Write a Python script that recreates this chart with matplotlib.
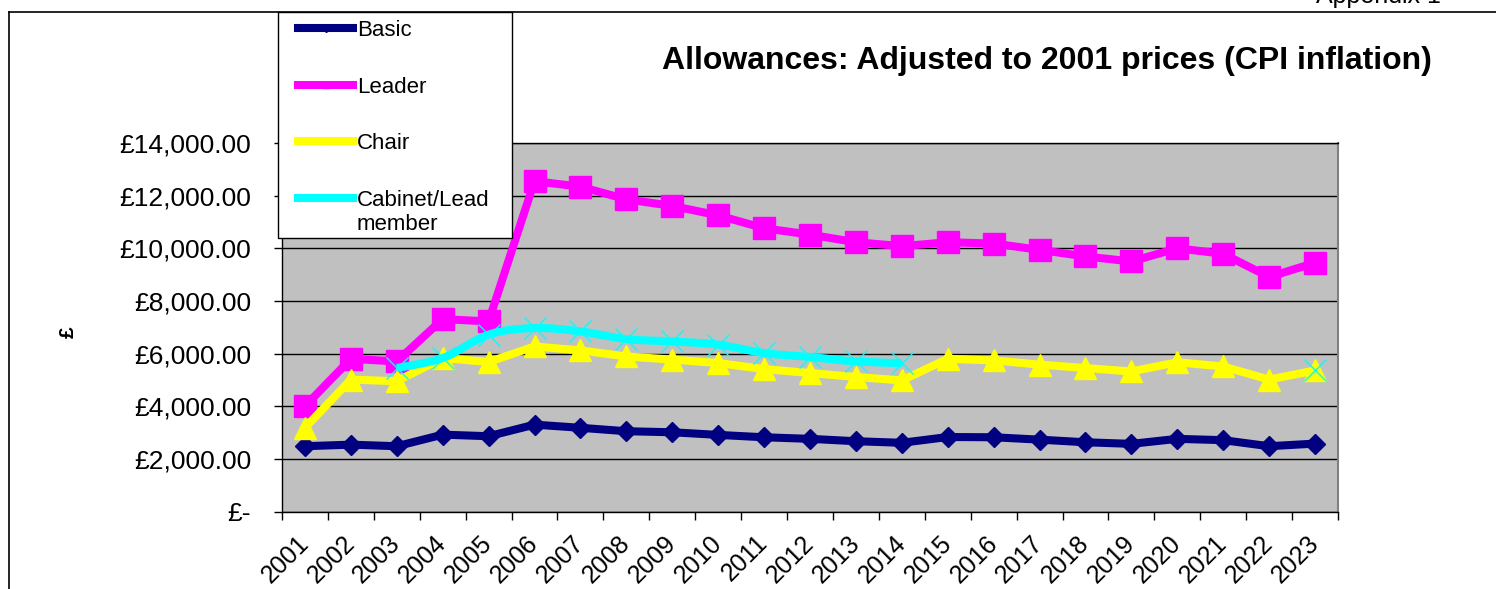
import numpy as np
import matplotlib
matplotlib.use("Agg")
import matplotlib.pyplot as plt
from matplotlib.lines import Line2D
from matplotlib.patches import Rectangle, PathPatch
from matplotlib.path import Path
from matplotlib.ticker import FuncFormatter

plt.rcParams['font.family'] = ['Liberation Sans', 'DejaVu Sans']

# values (GBP, 2001 prices)
years = [str(y) for y in range(2001, 2024)]
basic = [2480, 2540, 2480, 2920, 2860, 3300, 3180, 3050, 3010, 2910, 2820, 2760,
         2670, 2610, 2830, 2820, 2730, 2630, 2570, 2760, 2710, 2480, 2580]
leader = [4000, 5800, 5700, 7310, 7220, 12550, 12340, 11860, 11610, 11250, 10760, 10520,
          10230, 10080, 10230, 10180, 9940, 9690, 9500, 10000, 9790, 8910, 9450]
chair = [3180, 5010, 4950, 5830, 5680, 6270, 6120, 5890, 5770, 5640, 5410, 5260,
         5110, 4980, 5800, 5740, 5580, 5450, 5320, 5670, 5510, 5010, 5360]
cabinet = [np.nan, np.nan, 5450, 5830, 6720, 6970, 6840, 6550, 6460, 6340, 6020, 5870,
           5700, 5640, np.nan, np.nan, np.nan, np.nan, np.nan, np.nan, np.nan, np.nan, 5360]

series_names = ['Basic', 'Leader', 'Chair', 'Cabinet/Lead']
colors = ['#000080', '#FF00FF', '#FFFF00', '#00FFFF']
title = 'Allowances: Adjusted to 2001 prices (CPI inflation)'

W, H = 1496, 589


def smooth_path(xs, ys):
    # Excel-style smoothed line: cubic bezier through the points
    pts = np.column_stack([xs, ys]).astype(float)
    n = len(pts)
    verts = [tuple(pts[0])]
    codes = [Path.MOVETO]
    for i in range(n - 1):
        p0 = pts[max(i - 1, 0)]
        p1 = pts[i]
        p2 = pts[i + 1]
        p3 = pts[min(i + 2, n - 1)]
        c1 = p1 + (p2 - p0) / 6.0
        c2 = p2 - (p3 - p1) / 6.0
        verts += [tuple(c1), tuple(c2), tuple(p2)]
        codes += [Path.CURVE4] * 3
    return Path(verts, codes)


fig = plt.figure(figsize=(W / 100, H / 100), dpi=100)
ax = fig.add_axes([282 / W, 1 - 511.5 / H, (1338 - 282) / W, (511.5 - 143) / H])

x = np.arange(len(years))
lw = 5.8

ax.plot(x, basic, color=colors[0], lw=lw, marker='D', ms=10.5, zorder=3)
ax.plot(x, leader, color=colors[1], lw=lw, marker='s', ms=16.5, zorder=3)
ax.plot(x, chair, color=colors[2], lw=lw, marker='^', ms=16.5, zorder=3)

cab = np.array(cabinet, dtype=float)
ok = ~np.isnan(cab)
idx = x[ok]
# contiguous run for the smoothed line
run = idx[idx <= 13]
ax.add_patch(PathPatch(smooth_path(run, cab[run]), fill=False, edgecolor=colors[3],
                       lw=lw, capstyle='butt', joinstyle='round', zorder=4))
ax.plot(idx, cab[ok], linestyle='none', marker='x', ms=16.5, mew=1,
        color=colors[3], zorder=4)

ax.set_xlim(-0.5, len(years) - 0.5)
ax.set_ylim(0, 14000)
ax.set_facecolor('#C0C0C0')
ax.set_yticks(range(0, 14001, 2000))
ax.yaxis.set_major_formatter(FuncFormatter(lambda v, p: '£-' if v == 0 else f'£{v:,.2f}'))
ax.yaxis.grid(True, color='black', lw=1)
ax.set_axisbelow(True)
ax.tick_params(axis='y', length=5.8, width=1, pad=16.5, labelsize=19)

ax.set_xticks(x)
ax.set_xticklabels(years, rotation=45, ha='right', va='center',
                   rotation_mode='anchor', fontsize=18)
ax.set_xticks(np.arange(-0.5, len(years), 1), minor=True)
ax.tick_params(axis='x', which='major', length=0, pad=20)
ax.tick_params(axis='x', which='minor', length=5.8, width=1)

for s in ['left', 'bottom', 'top']:
    ax.spines[s].set_color('black')
    ax.spines[s].set_linewidth(1)
ax.spines['right'].set_color('#808080')
ax.spines['right'].set_linewidth(1.5)

# legend
handles = [
    Line2D([], [], color=colors[0], lw=lw, marker='D', ms=4),
    Line2D([], [], color=colors[1], lw=lw, marker='s', ms=5),
    Line2D([], [], color=colors[2], lw=lw, marker='^', ms=5),
    Line2D([], [], color=colors[3], lw=lw, marker='x', ms=5, mew=1),
]
fig.add_artist(Rectangle((278 / W, 1 - 238 / H), 234 / W, 226 / H, transform=fig.transFigure,
                         facecolor='white', edgecolor='black', lw=1, zorder=4))
fig.legend(handles, series_names, loc='upper left', bbox_to_anchor=(298 / W, 1 - 20 / H),
           frameon=False, fontsize=16, handlelength=2.48, handletextpad=0.18,
           labelspacing=1.6, borderpad=0, borderaxespad=0)
fig.text(357 / W, 1 - 224 / H, 'member', ha='left', va='center', fontsize=16, zorder=6)

fig.text(1046.5 / W, 1 - 61 / H, title, ha='center', va='center', fontsize=23, fontweight='bold')
fig.text(68 / W, 1 - 332 / H, '£', rotation=90, ha='center', va='center',
         fontsize=15, fontweight='bold')
fig.text(1378 / W, 1 - 3 / H, 'Appendix 1', ha='center', va='baseline', fontsize=18)

# page frame
fig.add_artist(Line2D([9 / W, 1], [1 - 11.5 / H] * 2, color='black', lw=1.2, transform=fig.transFigure))
fig.add_artist(Line2D([9 / W, 9 / W], [0, 1 - 11.5 / H], color='black', lw=1.2, transform=fig.transFigure))

fig.savefig('out.png', dpi=100)
